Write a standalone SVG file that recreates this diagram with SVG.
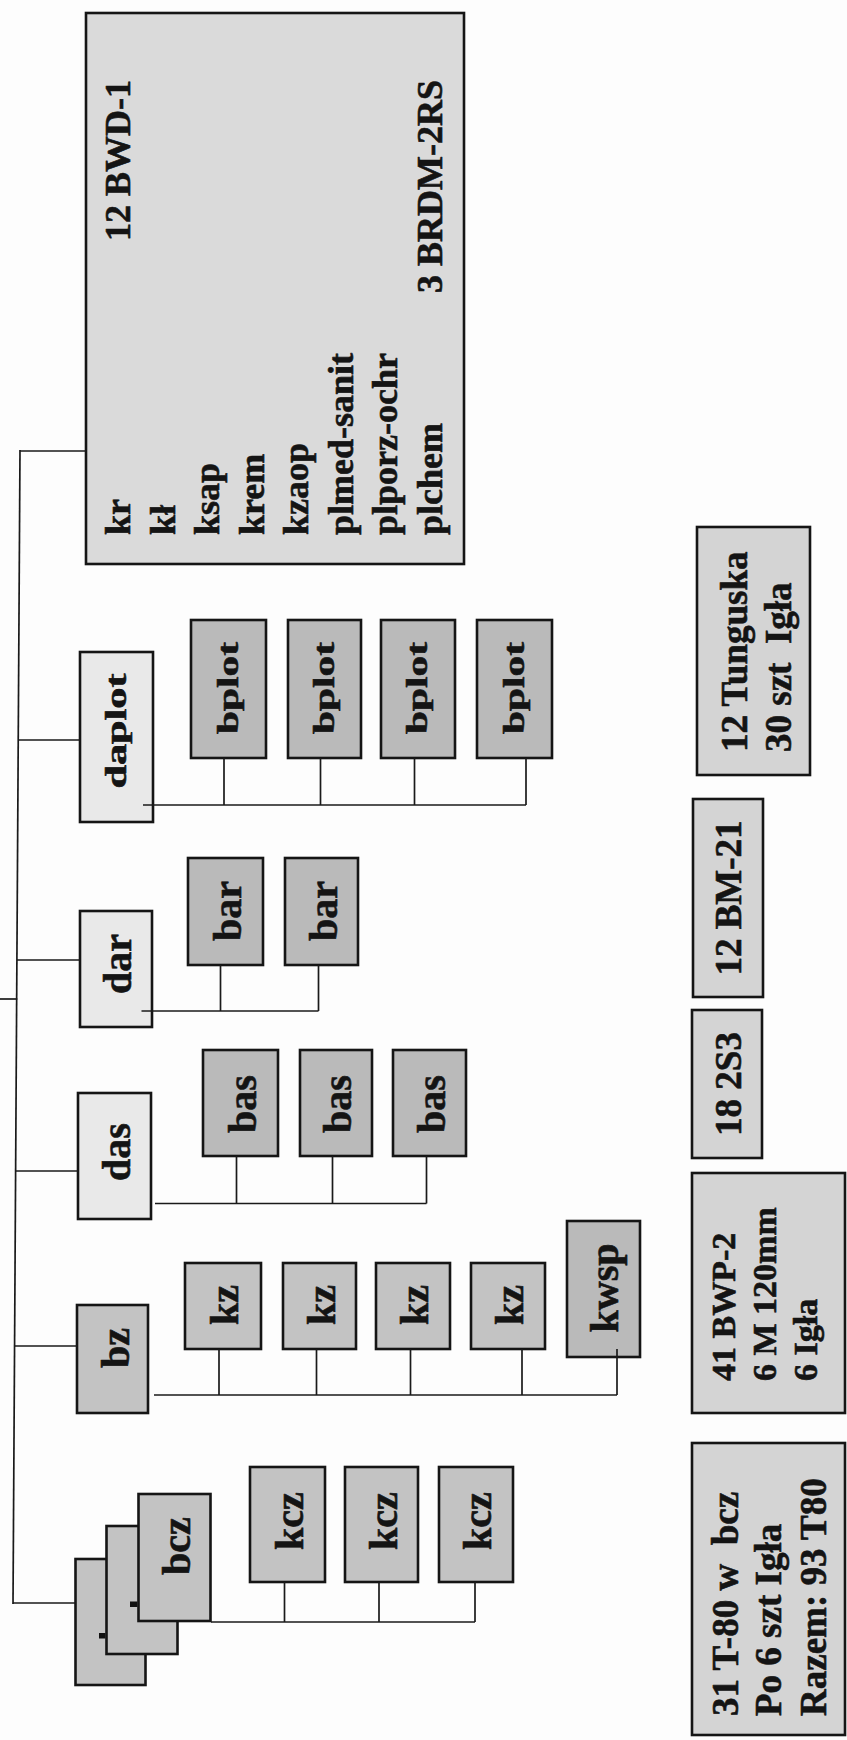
<svg xmlns="http://www.w3.org/2000/svg" width="847" height="1740" viewBox="0 0 847 1740">
<style>
.bx{stroke:#151515;stroke-width:2.6}
.g1{fill:#dadada}
.g2{fill:#e9e9e9}
.g3{fill:#bababa}
.g4{fill:#c3c3c3}
.g5{fill:#d4d4d4}
.t{font-family:"Liberation Serif","Times New Roman",serif;font-weight:bold;fill:#141414;stroke:#141414;stroke-width:0.6;stroke-linejoin:round}
.f40{font-size:40px}
.f37{font-size:37px}
.f36{font-size:36px}
.f34{font-size:34px}
.f30{font-size:30px}
.c line{stroke:#1a1a1a;stroke-width:1.7;fill:none}
</style>
<rect x="0" y="0" width="847" height="1740" fill="#fdfdfd"/>

<g id="hq">
<rect class="bx g1" x="86" y="13" width="378" height="551"/>
<g transform="rotate(-90)" class="t f36">
<text x="-535" y="130">kr</text>
<text x="-535" y="174.5">kł</text>
<text x="-535" y="219">ksap</text>
<text x="-535" y="263.5">krem</text>
<text x="-535" y="308">kzaop</text>
<text x="-535" y="352.5">plmed-sanit</text>
<text x="-535" y="397">plporz-ochr</text>
<text x="-535" y="441.5">plchem</text>
<text x="-241" y="130">12 BWD-1</text>
<text x="-293" y="441.5">3 BRDM-2RS</text>
</g>
</g>

<g id="daplot">
<rect class="bx g2" x="80" y="652" width="73" height="170"/>
<text class="t f30" transform="translate(116.5,731) rotate(-90)" y="9" text-anchor="middle" textLength="115" lengthAdjust="spacingAndGlyphs">daplot</text>
</g>
<g id="bplot1"><rect class="bx g3" x="191" y="620" width="75" height="138"/>
<text class="t f30" transform="translate(228.5,688) rotate(-90)" y="9" text-anchor="middle" textLength="92" lengthAdjust="spacingAndGlyphs">bplot</text></g>
<g id="bplot2"><rect class="bx g3" x="288" y="620" width="73" height="138"/>
<text class="t f30" transform="translate(324.5,688) rotate(-90)" y="9" text-anchor="middle" textLength="92" lengthAdjust="spacingAndGlyphs">bplot</text></g>
<g id="bplot3"><rect class="bx g3" x="381" y="620" width="74" height="138"/>
<text class="t f30" transform="translate(418,688) rotate(-90)" y="9" text-anchor="middle" textLength="92" lengthAdjust="spacingAndGlyphs">bplot</text></g>
<g id="bplot4"><rect class="bx g3" x="477" y="620" width="75" height="138"/>
<text class="t f30" transform="translate(514.5,688) rotate(-90)" y="9" text-anchor="middle" textLength="92" lengthAdjust="spacingAndGlyphs">bplot</text></g>

<g id="dar">
<rect class="bx g2" x="80" y="911" width="72" height="116"/>
<text class="t f40" transform="translate(116,964) rotate(-90)" y="15" text-anchor="middle">dar</text>
</g>
<g id="bar1"><rect class="bx g3" x="188" y="858" width="75" height="107"/>
<text class="t f40" transform="translate(225.5,911) rotate(-90)" y="15" text-anchor="middle">bar</text></g>
<g id="bar2"><rect class="bx g3" x="285" y="858" width="73" height="107"/>
<text class="t f40" transform="translate(321.5,911) rotate(-90)" y="15" text-anchor="middle">bar</text></g>

<g id="das">
<rect class="bx g2" x="78" y="1093" width="73" height="126"/>
<text class="t f40" transform="translate(114.5,1152) rotate(-90)" y="15" text-anchor="middle">das</text>
</g>
<g id="bas1"><rect class="bx g3" x="203" y="1050" width="75" height="106"/>
<text class="t f40" transform="translate(240.5,1104) rotate(-90)" y="15" text-anchor="middle">bas</text></g>
<g id="bas2"><rect class="bx g3" x="300" y="1050" width="72" height="106"/>
<text class="t f40" transform="translate(336,1104) rotate(-90)" y="15" text-anchor="middle">bas</text></g>
<g id="bas3"><rect class="bx g3" x="393" y="1050" width="73" height="106"/>
<text class="t f40" transform="translate(429.5,1104) rotate(-90)" y="15" text-anchor="middle">bas</text></g>

<g id="bz">
<rect class="bx g4" x="77" y="1305" width="71" height="108"/>
<text class="t f40" transform="translate(112.5,1348) rotate(-90)" y="16" text-anchor="middle">bz</text>
</g>
<g id="kz1"><rect class="bx g4" x="185" y="1263" width="76" height="86"/>
<text class="t f40" transform="translate(223,1305) rotate(-90)" y="15" text-anchor="middle">kz</text></g>
<g id="kz2"><rect class="bx g4" x="283" y="1263" width="73" height="86"/>
<text class="t f40" transform="translate(319.5,1305) rotate(-90)" y="15" text-anchor="middle">kz</text></g>
<g id="kz3"><rect class="bx g4" x="376" y="1263" width="74" height="86"/>
<text class="t f40" transform="translate(413,1305) rotate(-90)" y="15" text-anchor="middle">kz</text></g>
<g id="kz4"><rect class="bx g4" x="471" y="1263" width="74" height="86"/>
<text class="t f40" transform="translate(508,1305) rotate(-90)" y="15" text-anchor="middle">kz</text></g>
<g id="kwsp"><rect class="bx g3" x="567" y="1221" width="73" height="136"/>
<text class="t f40" transform="translate(603.5,1288) rotate(-90)" y="14" text-anchor="middle">kwsp</text></g>

<g id="bcz">
<rect class="bx g4" x="75.5" y="1559" width="70" height="126"/>
<rect x="99" y="1633" width="6.5" height="5.5" fill="#111"/>
<rect class="bx g4" x="106.5" y="1526" width="71" height="128"/>
<rect x="130" y="1601.5" width="7.5" height="5.5" fill="#111"/>
<rect class="bx g4" x="138.5" y="1494" width="72" height="127"/>
<text class="t f40" transform="translate(174.5,1546) rotate(-90)" y="15" text-anchor="middle">bcz</text>
</g>
<g id="kcz1"><rect class="bx g4" x="250" y="1467" width="75" height="115"/>
<text class="t f40" transform="translate(287.5,1521) rotate(-90)" y="15" text-anchor="middle">kcz</text></g>
<g id="kcz2"><rect class="bx g4" x="345" y="1467" width="73" height="115"/>
<text class="t f40" transform="translate(381.5,1521) rotate(-90)" y="15" text-anchor="middle">kcz</text></g>
<g id="kcz3"><rect class="bx g4" x="439" y="1467" width="74" height="115"/>
<text class="t f40" transform="translate(476,1521) rotate(-90)" y="15" text-anchor="middle">kcz</text></g>

<g id="tunguska">
<rect class="bx g5" x="697" y="527" width="113" height="248"/>
<g transform="rotate(-90)" class="t f37">
<text x="-752" y="747">12 Tunguska</text>
<text x="-752" y="791" xml:space="preserve">30 szt  Igła</text>
</g>
</g>
<g id="bm21">
<rect class="bx g5" x="693" y="799" width="70" height="198"/>
<text class="t f37" transform="translate(728,898) rotate(-90)" y="13" text-anchor="middle">12 BM-21</text>
</g>
<g id="s2s3">
<rect class="bx g5" x="692" y="1010" width="70" height="148"/>
<text class="t f37" transform="translate(727,1084) rotate(-90)" y="14" text-anchor="middle">18 2S3</text>
</g>
<g id="bwp2">
<rect class="bx g5" x="692" y="1173" width="153" height="240"/>
<g transform="rotate(-90)" class="t f34">
<text x="-1381" y="735">41 BWP-2</text>
<text x="-1381" y="776">6 M 120mm</text>
<text x="-1381" y="817">6 Igła</text>
</g>
</g>
<g id="t80">
<rect class="bx g5" x="692" y="1443" width="153" height="292"/>
<g transform="rotate(-90)" class="t f37">
<text x="-1716" y="738" xml:space="preserve">31 T-80 w  bcz</text>
<text x="-1716" y="781">Po 6 szt Igła</text>
<text x="-1716" y="826">Razem: 93 T80</text>
</g>
</g>

<g id="connectors" class="c">
<line x1="20" y1="450" x2="13" y2="1604"/>
<line x1="20" y1="451" x2="86" y2="451"/>
<line x1="0" y1="999" x2="17.3" y2="999"/>
<line x1="18.2" y1="740" x2="80" y2="740"/>
<line x1="16.9" y1="960" x2="80" y2="960"/>
<line x1="15.6" y1="1171" x2="78" y2="1171"/>
<line x1="14.6" y1="1346" x2="77" y2="1346"/>
<line x1="13" y1="1603" x2="75.5" y2="1603"/>

<line x1="143" y1="805" x2="526" y2="805"/>
<line x1="224" y1="758" x2="224" y2="805"/>
<line x1="320.5" y1="758" x2="320.5" y2="805"/>
<line x1="414.5" y1="758" x2="414.5" y2="805"/>
<line x1="526" y1="758" x2="526" y2="805"/>

<line x1="141.5" y1="1011" x2="318.5" y2="1011"/>
<line x1="220.5" y1="965" x2="220.5" y2="1011"/>
<line x1="318.5" y1="965" x2="318.5" y2="1011"/>

<line x1="155" y1="1203.5" x2="426.5" y2="1203.5"/>
<line x1="236.5" y1="1156" x2="236.5" y2="1203.5"/>
<line x1="332.5" y1="1156" x2="332.5" y2="1203.5"/>
<line x1="426.5" y1="1156" x2="426.5" y2="1203.5"/>

<line x1="154" y1="1395" x2="617" y2="1395"/>
<line x1="219" y1="1349" x2="219" y2="1395"/>
<line x1="316.5" y1="1349" x2="316.5" y2="1395"/>
<line x1="410.5" y1="1349" x2="410.5" y2="1395"/>
<line x1="522" y1="1349" x2="522" y2="1395"/>
<line x1="617" y1="1349" x2="617" y2="1395"/>

<line x1="211" y1="1622" x2="475" y2="1622"/>
<line x1="284.5" y1="1582" x2="284.5" y2="1622"/>
<line x1="379" y1="1582" x2="379" y2="1622"/>
<line x1="475" y1="1582" x2="475" y2="1622"/>
</g>
</svg>
